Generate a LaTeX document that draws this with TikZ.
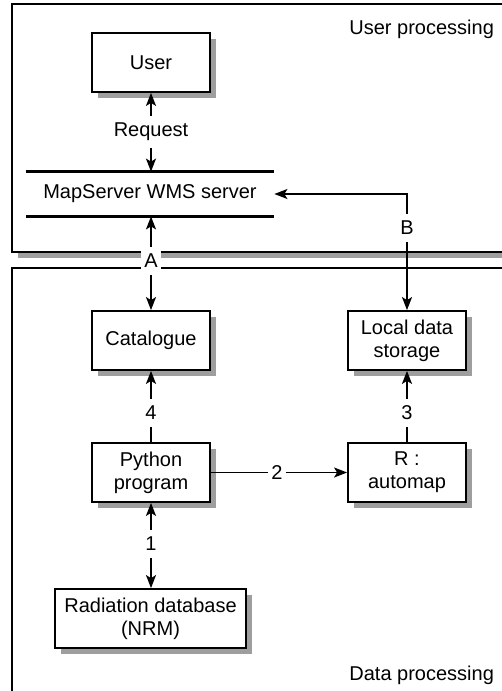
\documentclass[tikz,border=0pt]{standalone}
\usepackage{fontspec}
\setmainfont{Liberation Sans}
\usetikzlibrary{arrows.meta,shadows}

\begin{document}
\begin{tikzpicture}[
  x=0.5pt,
  y=-0.5pt,
  font=\fontsize{10}{11.5}\selectfont,
  block/.style={
    draw,
    line width=0.9pt,
    fill=white,
    align=center,
    minimum width=59pt,
    minimum height=29.5pt,
    inner sep=1pt,
    drop shadow={shadow xshift=3.2pt, shadow yshift=-3.2pt, fill=black!38, opacity=1}
  },
  frame/.style={
    draw,
    line width=0.9pt,
    fill=white
  },
  link/.style={
    line width=0.8pt
  },
  flow/.style={
    link,
    -{Stealth[length=6.5pt,width=5pt,inset=1.5pt]}
  },
  tag/.style={
    fill=white,
    inner xsep=1.5pt,
    inner ysep=3.5pt
  },
]
\clip (0,0) rectangle (502,691);

% the two processing areas
\fill[black!38] (18,10) rectangle (526,258);
\draw[frame] (12,4) rectangle (520,252);
\fill[black!38] (18,274) rectangle (526,710);
\draw[frame] (12,268) rectangle (520,704);
\node[anchor=east] (userarea) at (501,29) {User processing};
\node[anchor=east] (dataarea) at (501,675) {Data processing};

% blocks
\node[block] (user) at (151,62.5) {User};
\node[minimum width=124pt, minimum height=22pt, inner sep=0pt] (server) at (150,194) {MapServer WMS server};
\draw[line width=1.5pt] (server.north west) -- (server.north east);
\draw[line width=1.5pt] (server.south west) -- (server.south east);
\node[block] (cat) at (151,340.5) {Catalogue};
\node[block] (store) at (407,340.5) {Local data\\storage};
\node[block] (python) at (151,472.5) {Python\\program};
\node[block] (automap) at (407,472.5) {R :\\automap};
\node[block, minimum width=95.5pt] (radiation) at (150.5,618.5) {Radiation database\\(NRM)};

% connectors
\node[tag] (req) at (151,132) {Request};
\draw[flow] (req) -- (user);
\draw[flow] (req) -- (req |- server.north);
\node[tag, minimum height=12pt] (a) at (151,261) {A};
\draw[flow] (a) -- (a |- server.south);
\draw[flow] (a) -- (cat);
\node[tag] (b) at (407,228) {B};
\draw[flow] (b) |- (server.east);
\draw[flow] (b) -- (store);
\node[tag] (four) at (151,413) {4};
\draw[flow] (four) -- (cat);
\draw[link] (four) -- (python);
\node[tag] (three) at (407,413) {3};
\draw[flow] (three) -- (store);
\draw[link] (three) -- (automap);
\node[tag] (two) at (277,472.5) {2};
\draw[link] (python) -- (two);
\draw[flow] (two) -- (automap);
\node[tag] (one) at (151,544) {1};
\draw[flow] (one) -- (python);
\draw[flow] (one) -- (one |- radiation.north);
\end{tikzpicture}
\end{document}
